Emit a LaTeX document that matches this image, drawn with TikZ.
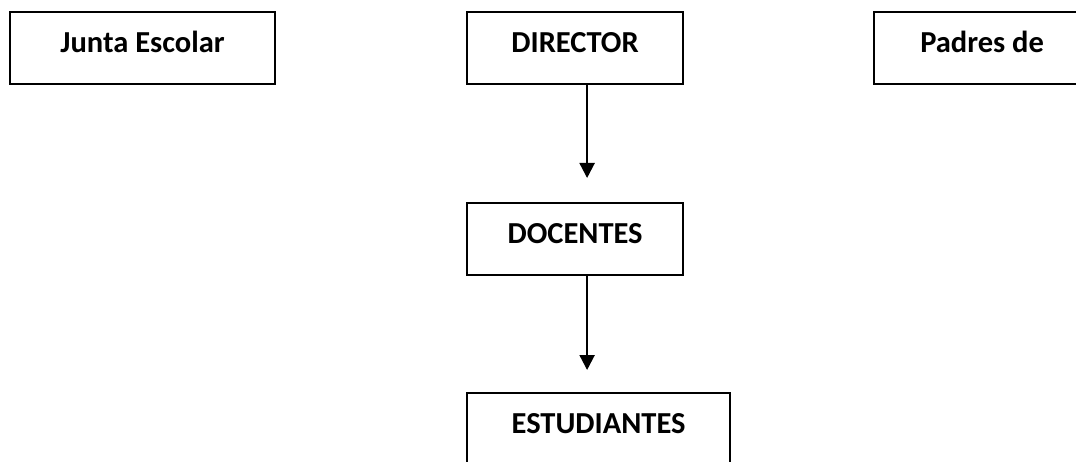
\documentclass[tikz,border=0pt]{standalone}
\usepackage{fontspec}
\setmainfont{Carlito}
\usetikzlibrary{arrows.meta}

\begin{document}
\begin{tikzpicture}[x=1pt,y=-1pt,>={Triangle[width=15pt,length=15pt]},line width=2.2pt,
    org box/.style={draw,anchor=north west,inner sep=0pt,minimum width=216pt,
        text height=40pt,text depth=32pt,font=\fontsize{30.5}{32}\selectfont\bfseries}]
                        \useasboundingbox (0,0) rectangle (1076,462);
                        \clip (0,0) rectangle (1076,462);

                        \node[org box,minimum width=265pt] (junta) at (9,11){Junta Escolar};
                        \node[org box] (director) at (466,11){DIRECTOR};
                        \node[org box] (padres) at (873,11){Padres de};

                        \node[org box] (docentes) at (466,202){DOCENTES};
                        \node[org box,minimum width=263pt] (estudiantes) at (466,392){ESTUDIANTES};

                        \path[->]
                                ([xshift=12pt]director.south) edge[shorten >=24pt] ([xshift=12pt]docentes.north)
                                ([xshift=12pt]docentes.south) edge[shorten >=22pt] ([xshift=12pt]docentes.south |- estudiantes.north)
                            ;
                    \end{tikzpicture}
\end{document}
